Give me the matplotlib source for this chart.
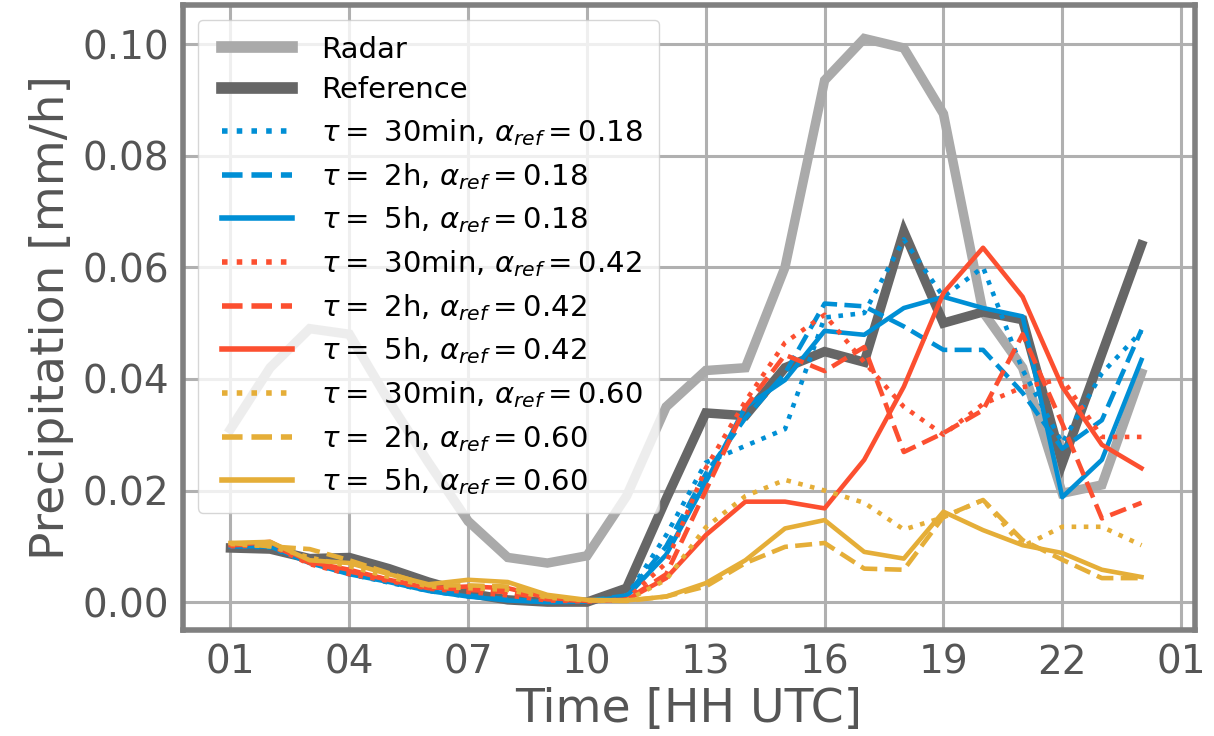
import numpy as np
import matplotlib
matplotlib.use("Agg")
import matplotlib.pyplot as plt

# hourly values, 01 UTC ... 24 UTC
hours = np.arange(1, 25)

radar = [0.031, 0.042, 0.049, 0.048, 0.036, 0.025, 0.0145, 0.008, 0.007, 0.0083,
         0.019, 0.035, 0.0415, 0.042, 0.060, 0.0935, 0.101, 0.0993, 0.0875, 0.052,
         0.042, 0.0195, 0.021, 0.041]
reference = [0.0097, 0.0095, 0.0078, 0.0080, 0.0060, 0.0036, 0.0016, 0.0004, 0.0000, 0.0000,
             0.0025, 0.0185, 0.0339, 0.0334, 0.0420, 0.0449, 0.0430, 0.0664, 0.0500, 0.0520,
             0.0506, 0.0249, 0.0445, 0.0640]

# alpha_ref = 0.18
blue_30min = [0.0100, 0.0098, 0.0070, 0.0050, 0.0035, 0.0020, 0.0010, 0.0004, 0.0000, 0.0001,
              0.0010, 0.0120, 0.0250, 0.0280, 0.0310, 0.0510, 0.0518, 0.0650, 0.0547, 0.0600,
              0.0416, 0.0285, 0.0410, 0.0485]
blue_2h = [0.0100, 0.0100, 0.0072, 0.0052, 0.0038, 0.0022, 0.0012, 0.0005, 0.0001, 0.0002,
           0.0012, 0.0100, 0.0230, 0.0330, 0.0410, 0.0535, 0.0530, 0.0494, 0.0452, 0.0452,
           0.0375, 0.0275, 0.0326, 0.0488]
blue_5h = [0.0100, 0.0100, 0.0070, 0.0050, 0.0036, 0.0020, 0.0010, 0.0003, 0.0000, 0.0001,
           0.0010, 0.0085, 0.0215, 0.0350, 0.0398, 0.0486, 0.0479, 0.0527, 0.0547, 0.0527,
           0.0512, 0.0188, 0.0255, 0.0434]

# alpha_ref = 0.42
red_30min = [0.0100, 0.0102, 0.0068, 0.0050, 0.0038, 0.0024, 0.0018, 0.0012, 0.0003, 0.0001,
             0.0005, 0.0070, 0.0240, 0.0360, 0.0465, 0.0515, 0.0430, 0.0350, 0.0300, 0.0355,
             0.0385, 0.0400, 0.0296, 0.0296]
red_2h = [0.0102, 0.0104, 0.0070, 0.0055, 0.0040, 0.0026, 0.0022, 0.0018, 0.0005, 0.0002,
          0.0004, 0.0050, 0.0200, 0.0350, 0.0443, 0.0414, 0.0457, 0.0269, 0.0303, 0.0344,
          0.0480, 0.0320, 0.0150, 0.0178]
red_5h = [0.0102, 0.0108, 0.0072, 0.0058, 0.0040, 0.0025, 0.0028, 0.0025, 0.0008, 0.0002,
          0.0004, 0.0043, 0.0120, 0.0180, 0.0180, 0.0168, 0.0255, 0.0386, 0.0554, 0.0635,
          0.0547, 0.0386, 0.0282, 0.0240]

# alpha_ref = 0.60
yellow_30min = [0.0104, 0.0100, 0.0080, 0.0064, 0.0045, 0.0028, 0.0025, 0.0022, 0.0008, 0.0003,
                0.0003, 0.0040, 0.0134, 0.0190, 0.0219, 0.0200, 0.0178, 0.0130, 0.0152, 0.0183,
                0.0100, 0.0135, 0.0135, 0.0102]
yellow_2h = [0.0106, 0.0100, 0.0095, 0.0075, 0.0052, 0.0030, 0.0030, 0.0028, 0.0010, 0.0003,
             0.0002, 0.0010, 0.0028, 0.0070, 0.0099, 0.0106, 0.0060, 0.0058, 0.0153, 0.0183,
             0.0111, 0.0076, 0.0043, 0.0043]
yellow_5h = [0.0106, 0.0108, 0.0075, 0.0070, 0.0050, 0.0032, 0.0040, 0.0036, 0.0013, 0.0004,
             0.0003, 0.0010, 0.0034, 0.0075, 0.0132, 0.0147, 0.0090, 0.0078, 0.0162, 0.0129,
             0.0102, 0.0088, 0.0058, 0.0045]

tick_hours = [1, 4, 7, 10, 13, 16, 19, 22, 25]
tick_labels = ['01', '04', '07', '10', '13', '16', '19', '22', '01']

blue = '#008fd5'
red = '#fc4f30'
yellow = '#e5ae38'

fig = plt.figure(figsize=(12.14, 7.36), dpi=100)
ax = fig.add_axes([0.1507, 0.144, 0.8336, 0.8492])

ax.plot(hours, radar, color='#aaaaaa', lw=6.8, label='Radar', solid_joinstyle='miter')
ax.plot(hours, reference, color='#666666', lw=6.8, label='Reference', solid_joinstyle='miter')

series = [
    (blue_30min, blue, ':', '30min', '0.18'),
    (blue_2h, blue, '--', '2h', '0.18'),
    (blue_5h, blue, '-', '5h', '0.18'),
    (red_30min, red, ':', '30min', '0.42'),
    (red_2h, red, '--', '2h', '0.42'),
    (red_5h, red, '-', '5h', '0.42'),
    (yellow_30min, yellow, ':', '30min', '0.60'),
    (yellow_2h, yellow, '--', '2h', '0.60'),
    (yellow_5h, yellow, '-', '5h', '0.60'),
]
for vals, col, ls, tau, alpha in series:
    lab = r'$\tau = $ ' + tau + r', $\alpha_{ref} = ' + alpha + '$'
    ax.plot(hours, vals, color=col, ls=ls, lw=3.3, label=lab)

ax.set_xlim(-0.2, 25.35)
ax.set_ylim(-0.005, 0.107)
ax.set_xticks(tick_hours)
ax.set_xticklabels(tick_labels)
ax.set_yticks([0.0, 0.02, 0.04, 0.06, 0.08, 0.10])
ax.set_yticklabels(['%.2f' % v for v in [0.0, 0.02, 0.04, 0.06, 0.08, 0.10]])

ax.grid(True, color='#b0b0b0', lw=2.2)
ax.set_axisbelow(True)
for sp in ax.spines.values():
    sp.set_color('#808080')
    sp.set_linewidth(4.0)
ax.tick_params(length=0, labelsize=28, labelcolor='#555555', pad=10)

ax.set_xlabel('Time [HH UTC]', fontsize=34, color='#555555', labelpad=4)
ax.set_ylabel('Precipitation [mm/h]', fontsize=34, color='#555555', labelpad=6)

leg = ax.legend(loc='upper left', fontsize=21, numpoints=2, handlelength=3.0,
                handletextpad=0.7, labelspacing=0.44, borderpad=0.55,
                framealpha=0.8, edgecolor='#cccccc', fancybox=True)
for i, line in enumerate(leg.get_lines()):
    if i < 2:
        line.set_linewidth(8.4)
    else:
        line.set_linewidth(4)

fig.savefig('out.png', dpi=100)
